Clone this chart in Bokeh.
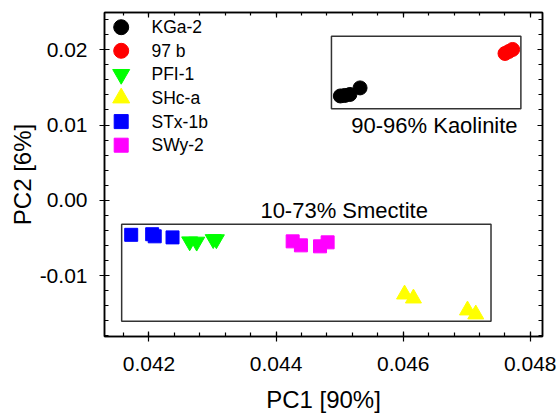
from bokeh.plotting import figure
from bokeh.models import FixedTicker, PrintfTickFormatter, LinearAxis, Range1d
from bokeh.core.properties import value
from bokeh.embed import file_html
from bokeh.resources import INLINE
import numpy as np

# ---- data ----
kga2_x = [0.04501, 0.04508, 0.04516, 0.04532]
kga2_y = [0.01386, 0.01393, 0.01406, 0.01493]
b97_x = [0.04760, 0.04766, 0.04772]
b97_y = [0.01951, 0.01977, 0.02004]
pfi1_x = [0.04264, 0.04275, 0.04301, 0.04306]
pfi1_y = [-0.00548, -0.00552, -0.00518, -0.00520]
shca_x = [0.04602, 0.04616, 0.04701, 0.04714]
shca_y = [-0.01250, -0.01303, -0.01462, -0.01515]
stx1b_x = [0.04172, 0.04205, 0.04209, 0.04237]
stx1b_y = [-0.00459, -0.00451, -0.00479, -0.00493]
swy2_x = [0.04426, 0.04439, 0.04469, 0.04481]
swy2_y = [-0.00546, -0.00599, -0.00612, -0.00559]

series_names = ["KGa-2", "97 b", "PFI-1", "SHc-a", "STx-1b", "SWy-2"]
series_colors = ["black", "#ff0000", "#00ff00", "#ffff00", "#0000ff", "#ff00ff"]
series_markers = ["circle", "circle", "inverted_triangle", "triangle", "square", "square"]

# group boxes
box_left = [0.04487, 0.04157]
box_right = [0.04785, 0.04738]
box_top = [0.0218, -0.00319]
box_bottom = [0.01216, -0.01607]
box_labels = ["90-96% Kaolinite", "10-73% Smectite"]
box_label_x = [0.04649, 0.04507]
box_label_y = [0.00995, -0.00134]

x_ticks = [0.042, 0.044, 0.046, 0.048]
y_ticks = [-0.01, 0.00, 0.01, 0.02]
x_lim = (0.0413, 0.04819)
y_lim = (-0.0181, 0.02495)
x_title = "PC1 [90%]"
y_title = "PC2 [6%]"

FONT = "Liberation Sans"
W, H = 556, 415
BL, BR, BT, BB = 104, 14, 12, 79
FW, FH = W - BL - BR, H - BT - BB

p = figure(width=W, height=H, output_backend="svg", toolbar_location=None,
           x_range=Range1d(*x_lim), y_range=Range1d(*y_lim),
           min_border_left=BL, min_border_right=BR, min_border_top=BT,
           min_border_bottom=BB)
p.xgrid.visible = False
p.ygrid.visible = False
p.outline_line_color = "black"
p.outline_line_width = 1.5
p.background_fill_color = "white"
p.border_fill_color = "white"

# boxes and their labels
p.quad(left=box_left, right=box_right, top=box_top, bottom=box_bottom,
       fill_alpha=0, line_color="#333333", line_width=1.5)
p.text(x=box_label_x, y=box_label_y, text=box_labels,
       text_font=value(FONT), text_font_size=value("22px"),
       text_align="center", text_baseline="alphabetic", text_color="black")

# scatter series
series_x = [kga2_x, b97_x, pfi1_x, shca_x, stx1b_x, swy2_x]
series_y = [kga2_y, b97_y, pfi1_y, shca_y, stx1b_y, swy2_y]
series_sizes = [14, 14, 16, 16, 13, 13]
for xs, ys, m, c, s in zip(series_x, series_y, series_markers, series_colors, series_sizes):
    p.scatter(xs, ys, marker=m, size=s, color=c)

# legend (drawn as a key in the upper-left corner of the frame)
def px2x(px):
    return x_lim[0] + px * (x_lim[1] - x_lim[0]) / FW

def py2y(py):
    return y_lim[1] - py * (y_lim[1] - y_lim[0]) / FH

leg_sizes = [15, 15, 17, 17, 14, 14]
rows = [14.7 + 23.6 * i for i in range(len(series_names))]
leg_y = [py2y(r) for r in rows]
p.scatter(x=[px2x(16.7)] * len(rows), y=leg_y, marker=series_markers,
          size=leg_sizes, color=series_colors)
p.text(x=[px2x(47)] * len(rows), y=leg_y, text=series_names,
       text_font=value(FONT), text_font_size=value("17.5px"),
       text_align="left", text_baseline="middle", text_color="black")

def minor(ticks, lo, hi, step):
    vals = np.arange(ticks[0] - 5 * step, ticks[-1] + 5 * step + 1e-12, step)
    return [float(v) for v in vals if lo <= v <= hi]

xt = FixedTicker(ticks=x_ticks, minor_ticks=minor(x_ticks, *x_lim, 0.0004))
yt = FixedTicker(ticks=y_ticks, minor_ticks=minor(y_ticks, *y_lim, 0.002))

for ax, t, fmt in ((p.xaxis[0], xt, "%.3f"), (p.yaxis[0], yt, "%.2f")):
    ax.ticker = t
    ax.formatter = PrintfTickFormatter(format=fmt)
    ax.major_label_text_font = FONT
    ax.major_label_text_font_size = "21px"
    ax.major_label_text_color = "black"
    ax.axis_label_text_font = FONT
    ax.axis_label_text_font_size = "24px"
    ax.axis_label_text_font_style = "normal"
    ax.axis_label_text_color = "black"
    ax.axis_line_width = 1.5
    ax.major_tick_in = 5
    ax.major_tick_out = 5
    ax.minor_tick_in = 4
    ax.minor_tick_out = 0
    ax.major_tick_line_width = 1.2
    ax.minor_tick_line_width = 1.2
    ax.major_label_standoff = 12

p.xaxis[0].major_label_standoff = 15
p.xaxis[0].axis_label = x_title
p.yaxis[0].axis_label = y_title
p.xaxis[0].axis_label_standoff = 12
p.yaxis[0].axis_label_standoff = 1

common = dict(major_label_text_font_size="1px", major_label_text_color=None,
              major_label_standoff=0, major_tick_out=0, minor_tick_out=0,
              axis_line_width=1.5, major_tick_line_width=1.2, minor_tick_line_width=1.2)
top_ax = LinearAxis(ticker=xt, major_tick_in=5, minor_tick_in=3, **common)
right_ax = LinearAxis(ticker=yt, major_tick_in=5, minor_tick_in=4, **common)
p.add_layout(top_ax, "above")
p.add_layout(right_ax, "right")

open("out.html", "w").write(file_html(p, INLINE))
